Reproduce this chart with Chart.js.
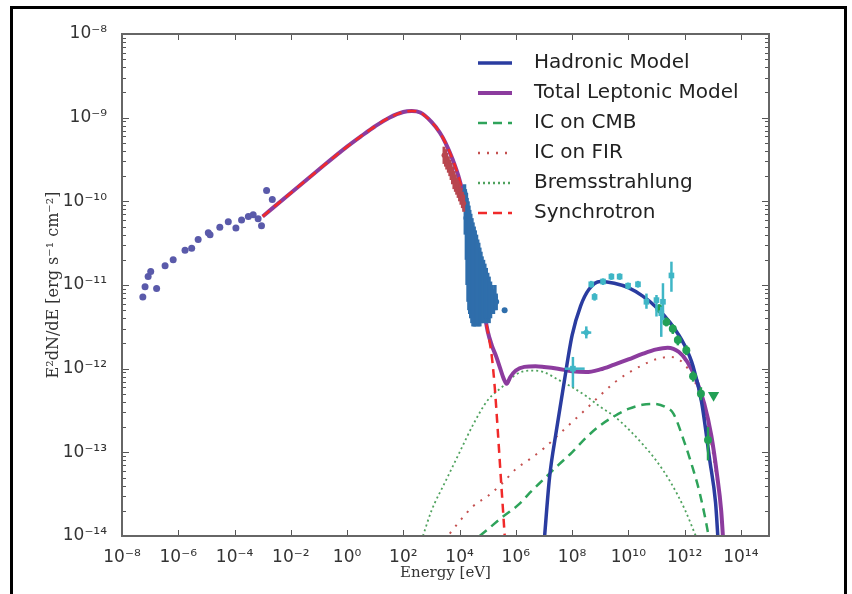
<!DOCTYPE html>
<html>
<head>
<meta charset="utf-8">
<script src="https://cdn.jsdelivr.net/npm/chart.js@4.4.0/dist/chart.umd.min.js"></script>
<style>
html, body { margin: 0; padding: 0; background: #fff; }
#wrap { position: relative; width: 852px; height: 594px; overflow: hidden; }
#frame { position: absolute; left: 10px; top: 6px; width: 831px; height: 600px; border: 3px solid #000; pointer-events: none; }
</style>
</head>
<body>
<div id="wrap">
  <canvas id="myChart"></canvas>
  <div id="frame"></div>
</div>
<script>
// axis ticks
const xTicks = [1e-8, 1e-6, 1e-4, 1e-2, 1e0, 1e2, 1e4, 1e6, 1e8, 1e10, 1e12, 1e14];
const xTickLabels = ['10⁻⁸', '10⁻⁶', '10⁻⁴', '10⁻²', '10⁰', '10²', '10⁴', '10⁶', '10⁸', '10¹⁰', '10¹²', '10¹⁴'];
const yTicks = [1e-14, 1e-13, 1e-12, 1e-11, 1e-10, 1e-9, 1e-8];
const yTickLabels = ['10⁻¹⁴', '10⁻¹³', '10⁻¹²', '10⁻¹¹', '10⁻¹⁰', '10⁻⁹', '10⁻⁸'];

// model curves (energy in eV, E^2 dN/dE)
const hadE = [1e7, 1.58e7, 2.75e7, 5e7, 1e8, 2e8, 4e8, 1e9, 3.16e9, 1e10, 3.16e10, 1e11, 3.16e11, 1e12, 2e12, 4e12, 7.9e12, 1.26e13, 1.58e13];
const hadF = [8e-15, 5.0e-14, 1.8e-13, 6.3e-13, 2.5e-12, 5.6e-12, 8.9e-12, 1.1e-11, 1.05e-11, 9.3e-12, 7.4e-12, 5.4e-12, 3.5e-12, 1.9e-12, 1.07e-12, 4e-13, 7.9e-14, 2.5e-14, 8e-15];

const lepE = [1e-3, 1e-2, 1e-1, 1, 3.16, 10, 31.6, 100, 200, 400, 1e3, 2e3, 3.16e3, 5.6e3, 1e4, 1.8e4, 3.2e4, 5.6e4, 1e5, 1.4e5, 2e5, 2.8e5, 3.7e5, 4.7e5, 6.3e5, 1e6, 2e6, 5e6, 1e7, 3.16e7, 1e8, 3.16e8, 1e9, 3.16e9, 1e10, 3.16e10, 1e11, 2.5e11, 6.3e11, 1.26e12, 2.5e12, 5e12, 8.9e12, 1.4e13, 2e13, 2.5e13];
const lepF = [6.6e-11, 1.26e-10, 2.4e-10, 4.5e-10, 6.0e-10, 7.9e-10, 1.0e-9, 1.17e-9, 1.2e-9, 1.15e-9, 8.9e-10, 6.6e-10, 5.0e-10, 3.2e-10, 1.8e-10, 7.9e-11, 2.8e-11, 8.9e-12, 2.8e-12, 1.9e-12, 1.4e-12, 1.0e-12, 7.6e-13, 6.6e-13, 7.9e-13, 9.5e-13, 1.05e-12, 1.07e-12, 1.05e-12, 1.0e-12, 9.3e-13, 9.1e-13, 9.8e-13, 1.12e-12, 1.29e-12, 1.5e-12, 1.7e-12, 1.78e-12, 1.58e-12, 1.2e-12, 7.6e-13, 3.8e-13, 1.58e-13, 5.6e-14, 2.0e-14, 6.3e-15];

const cmbE = [5.2e4, 1e5, 3.16e5, 1.4e6, 3.16e6, 1e7, 3.16e7, 1e8, 3.16e8, 1e9, 3.16e9, 1e10, 3.16e10, 7.9e10, 2e11, 4e11, 1e12, 2e12, 3.5e12, 7.1e12, 8.9e12];
const cmbF = [1e-14, 1.2e-14, 1.66e-14, 2.45e-14, 3.3e-14, 4.8e-14, 7e-14, 1.0e-13, 1.5e-13, 2.1e-13, 2.7e-13, 3.3e-13, 3.7e-13, 3.8e-13, 3.5e-13, 2.9e-13, 1.3e-13, 6.3e-14, 3.2e-14, 1e-14, 6e-15];

const firE = [4.5e3, 1e4, 3.16e4, 1e5, 3.16e5, 1e6, 3.16e6, 1e7, 3.16e7, 1e8, 3.16e8, 1e9, 3.16e9, 1e10, 3.16e10, 1e11, 3.16e11, 1e12, 2.5e12, 5e12, 1e13, 1.78e13, 2.5e13];
const firF = [1.07e-14, 1.5e-14, 2.3e-14, 3.0e-14, 4.2e-14, 6.3e-14, 8.3e-14, 1.12e-13, 1.6e-13, 2.3e-13, 3.3e-13, 4.8e-13, 6.8e-13, 8.9e-13, 1.1e-12, 1.3e-12, 1.38e-12, 1.12e-12, 6.6e-13, 3.2e-13, 1.0e-13, 2.5e-14, 8e-15];

const bremE = [500, 1e3, 3.16e3, 1e4, 3.16e4, 1e5, 3.16e5, 5.6e5, 1e6, 3.16e6, 1e7, 3.16e7, 1e8, 3.16e8, 1e9, 3.16e9, 1e10, 3.16e10, 1e11, 3.16e11, 1e12, 2.5e12];
const bremF = [1e-14, 2.0e-14, 4.5e-14, 1e-13, 2.2e-13, 4.2e-13, 6.0e-13, 7.1e-13, 8.5e-13, 9.5e-13, 9.1e-13, 7.4e-13, 6.0e-13, 4.7e-13, 3.5e-13, 2.7e-13, 1.9e-13, 1.26e-13, 7.9e-14, 4.4e-14, 2.1e-14, 1e-14];

const synE = [1e-3, 1e-2, 1e-1, 1, 3.16, 10, 31.6, 100, 200, 400, 1e3, 2e3, 3.16e3, 5.6e3, 1e4, 1.8e4, 3.2e4, 5.6e4, 1e5, 1.4e5, 1.78e5, 2.24e5, 2.8e5, 3.55e5, 4.2e5];
const synF = [6.6e-11, 1.26e-10, 2.4e-10, 4.5e-10, 6.0e-10, 7.9e-10, 1.0e-9, 1.17e-9, 1.2e-9, 1.15e-9, 8.9e-10, 6.6e-10, 5.0e-10, 3.2e-10, 1.8e-10, 7.9e-11, 2.8e-11, 8.9e-12, 2.8e-12, 1.4e-12, 6.0e-13, 2.0e-13, 6.3e-14, 1.9e-14, 8e-15];

// measured points
const radioE = [5.5e-8, 6.6e-8, 8.5e-8, 1.05e-7, 1.7e-7, 3.4e-7, 6.6e-7, 1.74e-6, 3.0e-6, 5.1e-6, 1.17e-5, 1.35e-5, 3.0e-5, 6.0e-5, 1.12e-4, 1.78e-4, 3.1e-4, 4.6e-4, 6.9e-4, 9.1e-4, 1.38e-3, 2.2e-3];
const radioF = [7.2e-12, 9.5e-12, 1.26e-11, 1.45e-11, 9.1e-12, 1.7e-11, 2.0e-11, 2.6e-11, 2.75e-11, 3.5e-11, 4.2e-11, 4.0e-11, 4.9e-11, 5.7e-11, 4.8e-11, 6.0e-11, 6.6e-11, 6.9e-11, 6.2e-11, 5.1e-11, 1.35e-10, 1.05e-10];

const softE = [2.8e3, 3.16e3, 3.5e3, 4.0e3, 4.5e3, 5.0e3, 5.6e3, 6.3e3, 7.1e3, 7.9e3, 8.9e3, 1e4, 1.12e4, 1.26e4, 1.4e4];
const softF = [3.55e-10, 3.3e-10, 3.0e-10, 2.75e-10, 2.5e-10, 2.3e-10, 2.05e-10, 1.8e-10, 1.66e-10, 1.5e-10, 1.38e-10, 1.26e-10, 1.15e-10, 1.05e-10, 9.5e-11];
const softLo = [2.8e-10, 2.6e-10, 2.4e-10, 2.2e-10, 2.0e-10, 1.8e-10, 1.6e-10, 1.4e-10, 1.3e-10, 1.2e-10, 1.1e-10, 1.0e-10, 9.1e-11, 8.3e-11, 7.5e-11];
const softHi = [4.5e-10, 4.2e-10, 3.8e-10, 3.45e-10, 3.15e-10, 2.9e-10, 2.6e-10, 2.3e-10, 2.1e-10, 1.9e-10, 1.75e-10, 1.6e-10, 1.45e-10, 1.3e-10, 1.2e-10];

const xrayE = [1.5e4, 1.6e4, 1.75e4, 1.85e4, 2.0e4, 2.15e4, 2.3e4, 2.5e4, 2.75e4, 3.0e4, 3.3e4, 3.6e4, 4.0e4, 4.4e4, 4.8e4, 5.25e4, 5.75e4, 6.3e4, 7.1e4, 7.9e4, 8.9e4, 1.0e5, 1.12e5, 1.26e5, 1.4e5, 1.6e5, 1.8e5, 2.0e5, 4.0e5];
const xrayF = [1.26e-10, 8.9e-11, 6.3e-11, 4.5e-11, 3.5e-11, 3.2e-11, 2.5e-11, 2.2e-11, 2.0e-11, 1.8e-11, 1.6e-11, 1.4e-11, 1.26e-11, 1.26e-11, 1.1e-11, 1.0e-11, 1.0e-11, 8.9e-12, 7.9e-12, 7.9e-12, 7.1e-12, 7.1e-12, 6.3e-12, 6.3e-12, 6.3e-12, 6.3e-12, 7.1e-12, 6.3e-12, 5.0e-12];
const xrayLo = [7.9e-11, 4.0e-11, 2.0e-11, 1.0e-11, 6.3e-12, 5.0e-12, 4.5e-12, 4.0e-12, 3.5e-12, 3.2e-12, 3.2e-12, 3.2e-12, 3.2e-12, 3.5e-12, 3.2e-12, 3.2e-12, 3.5e-12, 3.5e-12, 3.5e-12, 4.0e-12, 3.5e-12, 4.0e-12, 3.5e-12, 4.0e-12, 4.5e-12, 4.5e-12, 5.0e-12, 5.0e-12, null];
const xrayHi = [1.6e-10, 1.4e-10, 1.26e-10, 1.1e-10, 1.0e-10, 8.9e-11, 7.9e-11, 7.1e-11, 6.3e-11, 5.6e-11, 5.0e-11, 4.5e-11, 4.0e-11, 3.5e-11, 3.2e-11, 2.8e-11, 2.5e-11, 2.2e-11, 2.0e-11, 1.8e-11, 1.6e-11, 1.4e-11, 1.26e-11, 1.1e-11, 1.0e-11, 8.9e-12, 1.0e-11, 7.9e-12, null];

const gevE = [1.07e8, 3.2e8, 4.8e8, 6.3e8, 1.26e9, 2.5e9, 4.9e9, 9.8e9, 2.2e10, 4.4e10, 1.0e11, 1.48e11, 1.7e11, 3.4e11];
const gevF = [1.0e-12, 2.7e-12, 1.02e-11, 7.2e-12, 1.1e-11, 1.26e-11, 1.26e-11, 9.8e-12, 1.02e-11, 6.3e-12, 6.6e-12, 4.6e-12, 6.3e-12, 1.3e-11];
const gevLo = [6.0e-13, 2.3e-12, 9.3e-12, 6.5e-12, 1.0e-11, 1.15e-11, 1.15e-11, 8.9e-12, 9.3e-12, 5.2e-12, 4.2e-12, 2.4e-12, 3.8e-12, 8.3e-12];
const gevHi = [1.38e-12, 3.2e-12, 1.12e-11, 8.0e-12, 1.2e-11, 1.38e-11, 1.38e-11, 1.07e-11, 1.12e-11, 7.9e-12, 7.6e-12, 5.5e-12, 1.05e-11, 1.9e-11];
const gevXLo = [5.5e7, 2.1e8, null, null, null, null, null, null, null, null, null, null, null, null];
const gevXHi = [2.8e8, 4.8e8, null, null, null, null, null, null, null, null, null, null, null, null];

const tevE = [1.26e11, 2.24e11, 3.8e11, 5.75e11, 1.15e12, 2.0e12, 3.8e12, 6.8e12];
const tevF = [5.2e-12, 3.6e-12, 3.0e-12, 2.2e-12, 1.66e-12, 8.1e-13, 5.0e-13, 1.4e-13];
const tevLo = [4.6e-12, 3.2e-12, 2.6e-12, 1.9e-12, 1.45e-12, 7.0e-13, 4.2e-13, 8.0e-14];
const tevHi = [5.9e-12, 4.1e-12, 3.4e-12, 2.5e-12, 1.9e-12, 9.3e-13, 6.0e-13, 2.0e-13];
const tevUlE = [1.07e13];
const tevUlF = [4.8e-13];

const pts = (xs, ys) => xs.map((x, i) => ({ x: x, y: ys[i] }));

function curve(label, xs, ys, color, width, dash, order) {
    return {
        label: label, data: pts(xs, ys), showLine: true, inLegend: true,
        borderColor: color, backgroundColor: color, borderWidth: width, borderDash: dash,
        pointRadius: 0, cubicInterpolationMode: 'monotone', order: order
    };
}

function points(label, xs, ys, color, radius, style, extra) {
    return Object.assign({
        label: label, data: pts(xs, ys), showLine: false,
        backgroundColor: color, borderColor: color, borderWidth: 0,
        pointRadius: radius, pointStyle: style, order: 0
    }, extra || {});
}

// error bars, inward ticks, frame and the in-plot legend
const sedDecor = {
    id: 'sedDecor',
    afterDatasetDraw(chart, args) {
        const ds = chart.data.datasets[args.index];
        if (!ds.errLo) return;
        const xs = chart.scales.x, ys = chart.scales.y, c = chart.ctx;
        c.save();
        c.strokeStyle = ds.backgroundColor;
        c.lineWidth = ds.errWidth || 1.5;
        ds.data.forEach((p, i) => {
            const px = xs.getPixelForValue(p.x);
            const py = ys.getPixelForValue(p.y);
            if (ds.errLo[i] != null) {
                c.beginPath();
                c.moveTo(px, ys.getPixelForValue(ds.errLo[i]));
                c.lineTo(px, ys.getPixelForValue(ds.errHi[i]));
                c.stroke();
            }
            if (ds.errXLo && ds.errXLo[i] != null) {
                c.beginPath();
                c.moveTo(xs.getPixelForValue(ds.errXLo[i]), py);
                c.lineTo(xs.getPixelForValue(ds.errXHi[i]), py);
                c.stroke();
            }
        });
        c.restore();
    },
    afterDraw(chart) {
        const c = chart.ctx, a = chart.chartArea, xs = chart.scales.x, ys = chart.scales.y;
        const seg = (x1, y1, x2, y2) => { c.beginPath(); c.moveTo(x1, y1); c.lineTo(x2, y2); c.stroke(); };
        c.save();
        c.strokeStyle = '#555';
        c.lineWidth = 1;
        xTicks.forEach(v => {
            const px = Math.round(xs.getPixelForValue(v)) + 0.5;
            seg(px, a.bottom, px, a.bottom - 6);
            seg(px, a.top, px, a.top + 6);
        });
        yTicks.forEach((v, i) => {
            const py = Math.round(ys.getPixelForValue(v)) + 0.5;
            seg(a.left, py, a.left + 7, py);
            seg(a.right, py, a.right - 7, py);
            if (i < yTicks.length - 1) {
                for (let k = 2; k < 10; k++) {
                    const my = Math.round(ys.getPixelForValue(v * k)) + 0.5;
                    seg(a.left, my, a.left + 4, my);
                    seg(a.right, my, a.right - 4, my);
                }
            }
        });
        c.lineWidth = 2;
        c.strokeStyle = '#666';
        c.strokeRect(a.left, a.top, a.right - a.left, a.bottom - a.top);

        // legend
        let ly = a.top + 29;
        const lx = a.right - 291, tx = a.right - 235;
        chart.data.datasets.filter(d => d.inLegend).forEach(d => {
            c.strokeStyle = d.borderColor;
            c.lineWidth = Math.max(d.borderWidth, 2.5);
            c.setLineDash(d.borderDash || []);
            seg(lx, ly, lx + 34, ly);
            c.setLineDash([]);
            c.fillStyle = '#222';
            c.font = '20px "DejaVu Sans"';
            c.textBaseline = 'middle';
            c.textAlign = 'left';
            c.fillText(d.label, tx, ly);
            ly += 30;
        });
        c.restore();
    }
};

const ctx = document.getElementById('myChart').getContext('2d');
const chart = new Chart(ctx, {
    type: 'scatter',
    data: {
        datasets: [
            curve('Hadronic Model', hadE, hadF, '#2a3ca0', 3.5, [], 2),
            curve('Total Leptonic Model', lepE, lepF, '#8c3c9e', 4, [], 3),
            curve('IC on CMB', cmbE, cmbF, '#2ea35a', 2.5, [9, 6], 4),
            curve('IC on FIR', firE, firF, '#c4504f', 2, [2, 7], 5),
            curve('Bremsstrahlung', bremE, bremF, '#4fa25e', 1.8, [2, 3], 6),
            curve('Synchrotron', synE, synF, '#f02a2a', 2.5, [9, 6], 1),
            points('radio', radioE, radioF, '#5a5aaa', 3.5, 'circle'),
            points('soft X-ray', softE, softF, '#b8464f', 2.5, 'circle', { errLo: softLo, errHi: softHi, errWidth: 3 }),
            points('X-ray', xrayE, xrayF, '#2f6eab', 3, 'circle', { errLo: xrayLo, errHi: xrayHi, errWidth: 3.5 }),
            points('GeV', gevE, gevF, '#3fb6c6', 4, ['rect', 'rectRot', 'rect', 'rect', 'rect', 'rect', 'rect', 'rect', 'rect', 'rect', 'rect', 'rect', 'rect', 'rect'],
                { errLo: gevLo, errHi: gevHi, errXLo: gevXLo, errXHi: gevXHi, errWidth: 2.5 }),
            points('TeV', tevE, tevF, '#22a055', 4, 'circle', { errLo: tevLo, errHi: tevHi, errWidth: 2.5 }),
            points('TeV UL', tevUlE, tevUlF, '#22a055', 6.5, 'triangle', { pointRotation: 180 })
        ]
    },
    options: {
        responsive: true,
        maintainAspectRatio: false,
        animation: false,
        layout: { padding: { left: 0, right: 83, top: 34, bottom: 0 } },
        plugins: { legend: { display: false }, tooltip: { enabled: false } },
        scales: {
            x: {
                type: 'logarithmic', min: 1e-8, max: 1e15,
                afterBuildTicks: s => { s.ticks = xTicks.map(v => ({ value: v })); },
                afterFit: s => { s.height = 58; },
                grid: { display: false },
                border: { display: false },
                ticks: {
                    callback: (v, i) => xTickLabels[i],
                    color: '#333', font: { family: 'DejaVu Sans', size: 17 },
                    padding: 3, maxRotation: 0, autoSkip: false
                },
                title: {
                    display: true, text: 'Energy [eV]', color: '#333',
                    font: { family: 'DejaVu Serif', size: 15 }, padding: { top: 0, bottom: 12 }
                }
            },
            y: {
                type: 'logarithmic', min: 1e-14, max: 1e-8,
                afterBuildTicks: s => { s.ticks = yTicks.map(v => ({ value: v })); },
                afterFit: s => { s.width = 122; },
                grid: { display: false },
                border: { display: false },
                ticks: {
                    callback: (v, i) => yTickLabels[i],
                    color: '#333', font: { family: 'DejaVu Sans', size: 17 },
                    padding: 7, autoSkip: false
                },
                title: {
                    display: true, text: 'E²dN/dE [erg s⁻¹ cm⁻²]', color: '#333',
                    font: { family: 'DejaVu Serif', size: 16 }, padding: { top: 44, bottom: 0 }
                }
            }
        }
    },
    plugins: [sedDecor]
});
</script>
</body>
</html>
